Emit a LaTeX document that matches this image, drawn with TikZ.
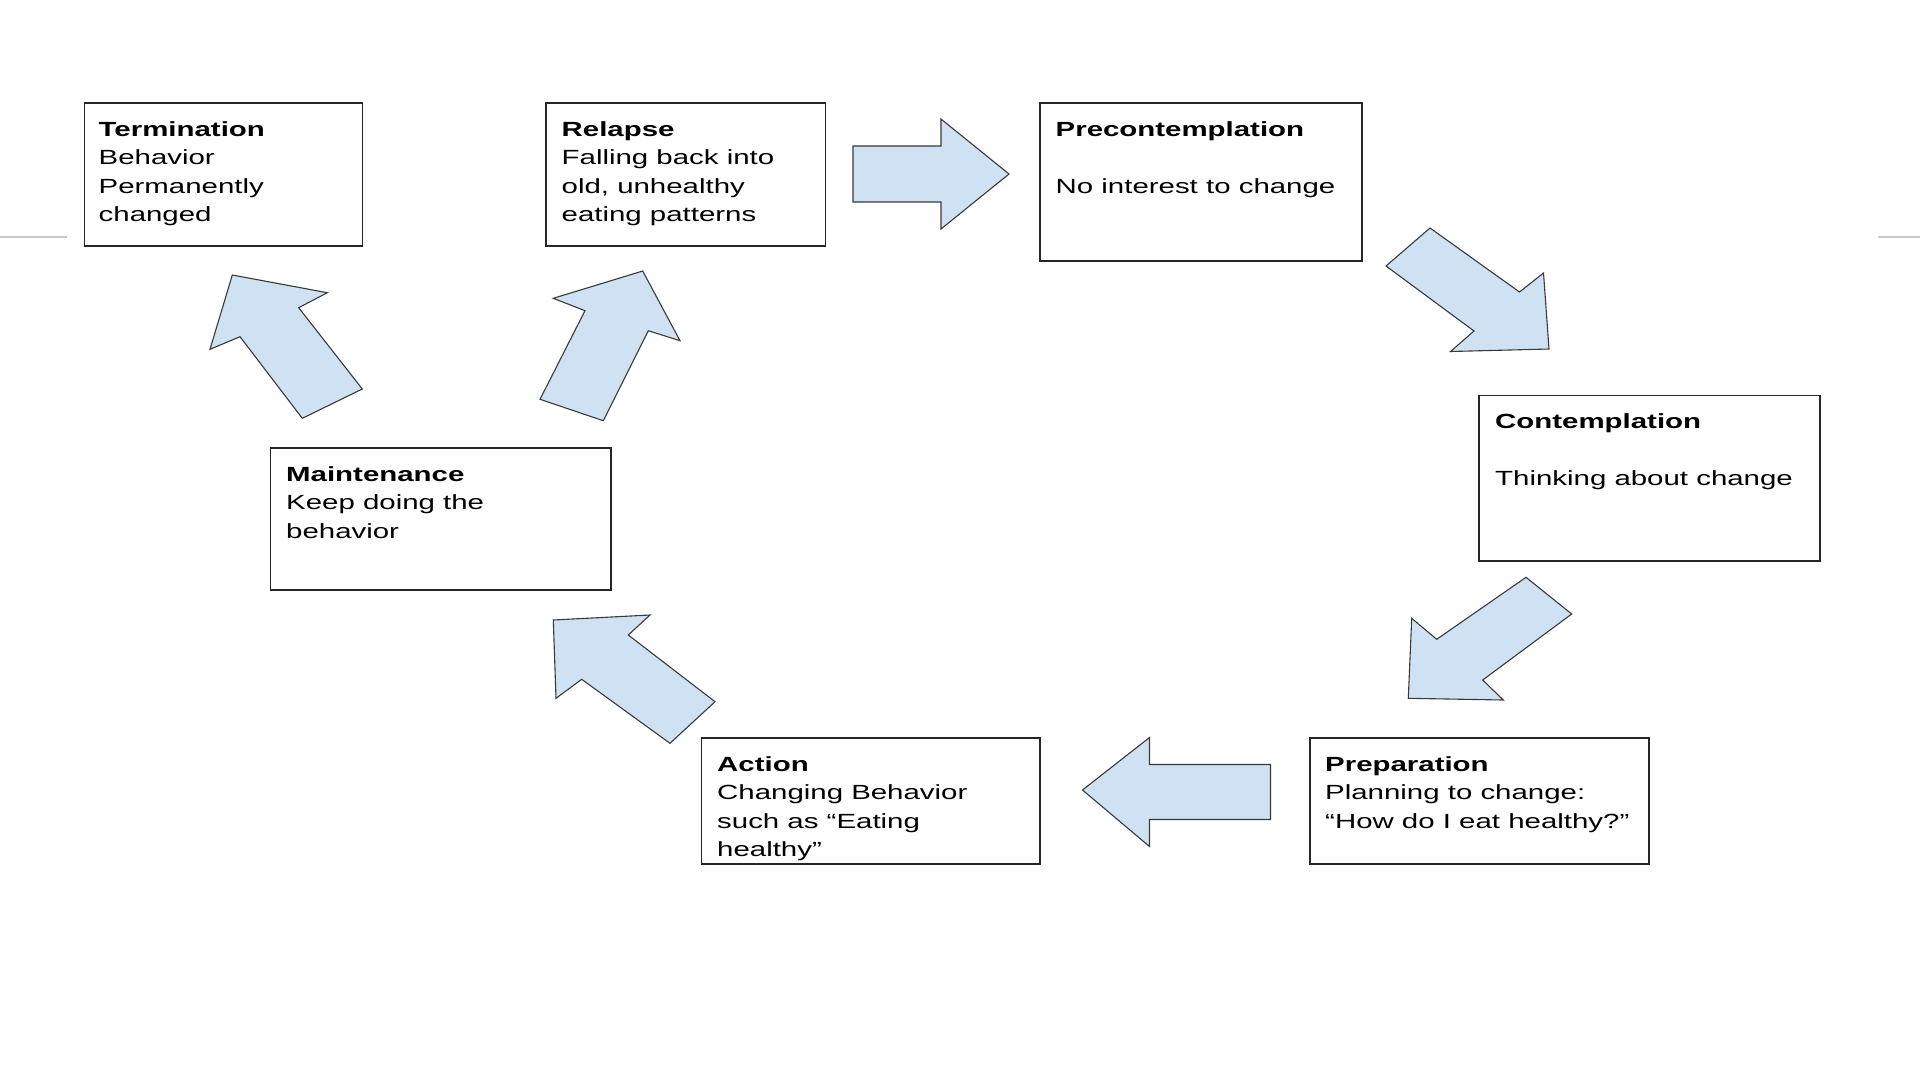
\documentclass[tikz,border=0pt]{standalone}
\usepackage{fontspec}
\setmainfont[FakeStretch=1.435]{Liberation Sans}
\definecolor{arrowfill}{HTML}{CFE2F3}
\definecolor{arrowline}{HTML}{3A3A3A}
\definecolor{rulegray}{HTML}{C8C8C8}
\newcommand\stagetxt[1]{\begin{minipage}[t]{330pt}\fontsize{20.5pt}{28.5pt}\selectfont\raggedright #1\end{minipage}}
\begin{document}
\begin{tikzpicture}[x=1pt,y=-1pt,
  stagebox/.style={draw=black!85, line width=1.4pt, rectangle, inner sep=0pt, fill=white},
  stagetext/.style={anchor=base west, inner sep=0pt, text=black},
  blockarrow/.style={fill=arrowfill, draw=arrowline, line width=1.1pt, line join=miter}]
\useasboundingbox (0,0) rectangle (1920,1080);
\fill[white] (0,0) rectangle (1920,1080);
% faint rules at the edges
\coordinate (rl1) at (0,237); \coordinate (rl2) at (67,237);
\coordinate (rr1) at (1878,237); \coordinate (rr2) at (1920,237);
\draw[rulegray, line width=1.2pt] (rl1) -- (rl2);
\draw[rulegray, line width=1.2pt] (rr1) -- (rr2);

% boxes
\node[stagebox, minimum width=278pt, minimum height=143pt] (term) at (223.5,174.5) {};
\node[stagebox, minimum width=279.5pt, minimum height=143pt] (relapse) at (685.75,174.5) {};
\node[stagebox, minimum width=322pt, minimum height=158pt] (precon) at (1201,182) {};
\node[stagebox, minimum width=341pt, minimum height=165.5pt] (contemp) at (1649.5,478.25) {};
\node[stagebox, minimum width=340.4pt, minimum height=142pt] (maint) at (440.8,519) {};
\node[stagebox, minimum width=338.4pt, minimum height=126pt] (action) at (870.8,801) {};
\node[stagebox, minimum width=339pt, minimum height=126pt] (prep) at (1479.5,801) {};

% texts
\node[stagetext] (termT) at (98.5,136) {\stagetxt{\textbf{Termination}\\Behavior\\Permanently\\changed}};
\node[stagetext] (relapseT) at (561.5,136) {\stagetxt{\textbf{Relapse}\\Falling back into\\old, unhealthy\\eating patterns}};
\node[stagetext] (preconT) at (1055.5,136) {\stagetxt{\textbf{Precontemplation}\\[28.5pt]No interest to change}};
\node[stagetext] (contempT) at (1495,428.5) {\stagetxt{\textbf{Contemplation}\\[28.5pt]Thinking about change}};
\node[stagetext] (maintT) at (286,481) {\stagetxt{\textbf{Maintenance}\\Keep doing the\\behavior}};
\node[stagetext] (actionT) at (717,771) {\stagetxt{\textbf{Action}\\Changing Behavior\\such as “Eating\\healthy”}};
\node[stagetext] (prepT) at (1325,771) {\stagetxt{\textbf{Preparation}\\Planning to change:\\“How do I eat healthy?”}};

% block arrows
% Relapse -> Precontemplation
\draw[blockarrow] (853,146) -- (941,146) -- (941,119) -- (1009,174) -- (941,229) -- (941,202) -- (853,202) -- cycle;
% Precontemplation -> Contemplation
\draw[blockarrow] (1430,228) -- (1519.5,292) -- (1543.5,273) -- (1549,349) -- (1450.5,351.5) -- (1474,331) -- (1386,266) -- cycle;
% Contemplation -> Preparation
\draw[blockarrow] (1526,577.3) -- (1571.7,614) -- (1482.7,680) -- (1503.3,700) -- (1408.3,698.3) -- (1411.7,618.3) -- (1436.7,639.3) -- cycle;
% Preparation -> Action
\draw[blockarrow] (1270.5,764.5) -- (1149.5,764.5) -- (1149.5,737.5) -- (1082.5,790) -- (1149.5,846.5) -- (1149.5,819.5) -- (1270.5,819.5) -- cycle;
% Action -> Maintenance
\draw[blockarrow] (553.3,620) -- (650,615) -- (628.3,635) -- (715,701.7) -- (670,743.3) -- (581.7,679.3) -- (556,698.3) -- cycle;
% Maintenance -> Termination
\draw[blockarrow] (232.3,275) -- (327.3,292.7) -- (298.7,307.7) -- (362.3,389) -- (302.3,418.3) -- (240,336.7) -- (210,349.3) -- cycle;
% Maintenance -> Relapse
\draw[blockarrow] (642.7,271) -- (680,340.7) -- (648.3,330.7) -- (603.3,420.7) -- (540,399.3) -- (585,310.7) -- (553.3,298.3) -- cycle;
\end{tikzpicture}
\end{document}
